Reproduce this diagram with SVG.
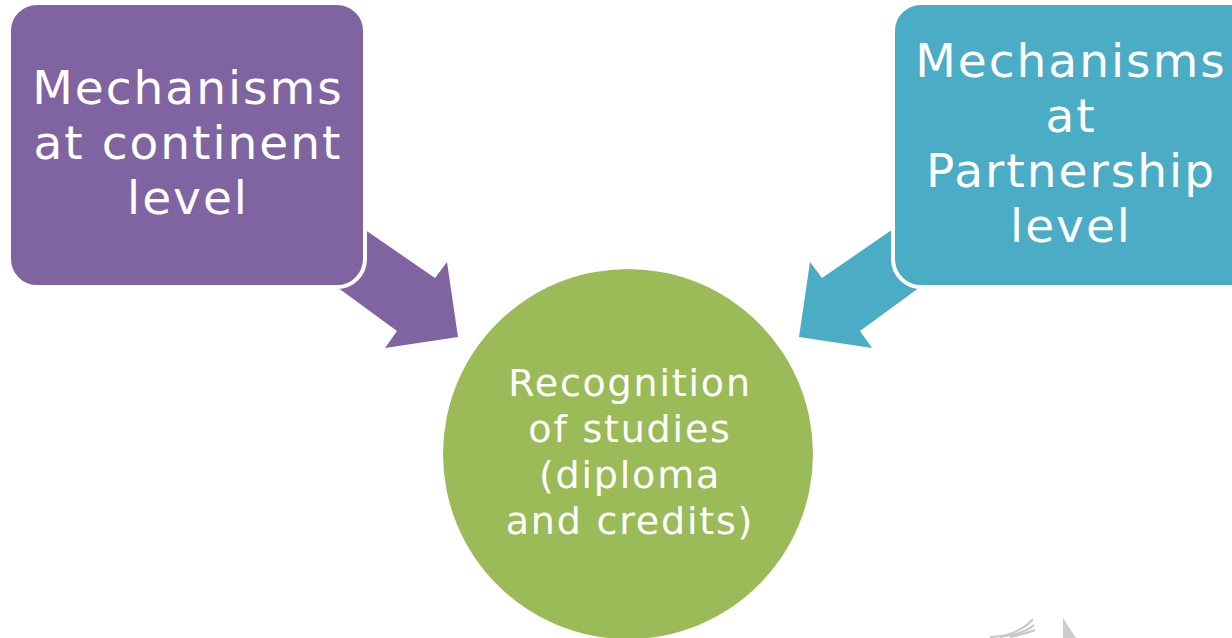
<svg xmlns="http://www.w3.org/2000/svg" width="1232" height="638" viewBox="0 0 1232 638">
<style>
.lbl{font-family:"DejaVu Sans","Liberation Sans",sans-serif;fill:#ffffff;text-anchor:middle}
.big{font-size:47px;letter-spacing:2px}
.mid{font-size:38px;letter-spacing:1.8px}
.box{stroke:#ffffff;stroke-width:4}
</style>
<rect width="1232" height="638" fill="#ffffff"/>
<g id="connectors">
<polygon fill="#8064A2" points="300,185 435,278 447,262 458,337 385,348 397,331 270,238"/>
<polygon fill="#4BACC6" points="957,185 822,278 810,262 799,337 872,348 860,331 987,238"/>
</g>
<g id="node-continent">
<rect class="box" x="9" y="3" width="356" height="284" rx="28" fill="#8064A2"/>
<text class="lbl big" x="188" y="104">Mechanisms</text>
<text class="lbl big" x="188" y="159">at continent</text>
<text class="lbl big" x="188" y="214">level</text>
</g>
<g id="node-partnership">
<rect class="box" x="893" y="3" width="400" height="284" rx="28" fill="#4BACC6"/>
<text class="lbl big" x="1071" y="77">Mechanisms</text>
<text class="lbl big" x="1071" y="132">at</text>
<text class="lbl big" x="1071" y="187">Partnership</text>
<text class="lbl big" x="1071" y="242">level</text>
</g>
<g id="node-recognition">
<circle cx="628" cy="454" r="185" fill="#9BBB59"/>
<text class="lbl mid" x="630" y="396">Recognition</text>
<text class="lbl mid" x="630" y="442">of studies</text>
<text class="lbl mid" x="630" y="488">(diploma</text>
<text class="lbl mid" x="630" y="534">and credits)</text>
</g>
<g id="logo-fragment" fill="none" stroke="#c8c8c8" stroke-width="2">
<path d="M990,637 Q1018,636 1033,619"/>
<path d="M1000,637 Q1024,634 1034,625"/>
<path d="M1010,637 Q1028,633 1035,630"/>
<polygon points="1063,618 1076,638 1063,638" fill="#cccccc" stroke="none"/>
</g>
</svg>
